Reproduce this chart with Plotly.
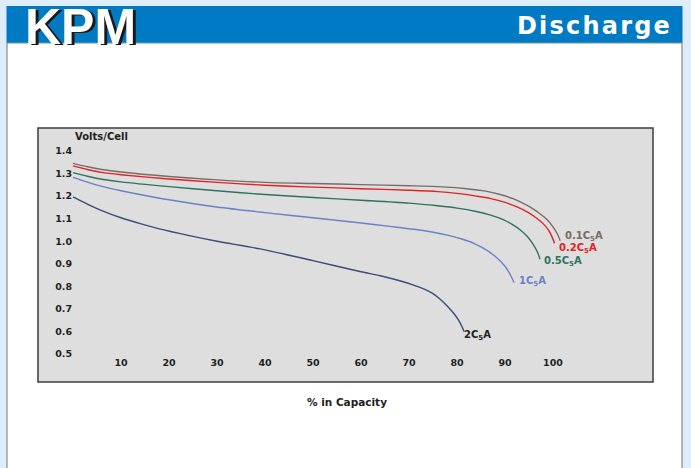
import plotly.graph_objects as go

W, H = 691, 468

# ---- data ----
x_01 = [0, 3, 6, 10, 20, 30, 40, 50, 60, 70, 77, 82, 86, 89, 91.5, 93.5, 95.5, 97.3, 98.8, 100, 100.9, 101.5]
v_01 = [1.345, 1.330, 1.318, 1.307, 1.287, 1.272, 1.261, 1.256, 1.251, 1.246, 1.241, 1.233, 1.222, 1.207, 1.190, 1.171, 1.148, 1.122, 1.095, 1.064, 1.033, 1.002]

x_02 = [0, 3, 6, 10, 20, 30, 40, 50, 60, 70, 76, 80, 84, 87, 90, 92.5, 94.8, 96.6, 98, 99.2, 99.9, 100.3]
v_02 = [1.334, 1.318, 1.305, 1.295, 1.276, 1.261, 1.248, 1.240, 1.233, 1.226, 1.220, 1.212, 1.200, 1.189, 1.172, 1.152, 1.128, 1.102, 1.077, 1.045, 1.015, 0.991]

x_05 = [0, 3, 6, 10, 20, 30, 40, 50, 60, 70, 76, 80, 84, 87, 89.5, 91.5, 93.2, 94.7, 95.9, 96.8, 97.3]
v_05 = [1.304, 1.288, 1.275, 1.263, 1.242, 1.224, 1.207, 1.194, 1.182, 1.169, 1.157, 1.147, 1.132, 1.116, 1.097, 1.075, 1.050, 1.020, 0.985, 0.950, 0.920]

x_1 = [0, 3, 6, 10, 15, 20, 30, 40, 50, 60, 66, 71, 75, 78, 81, 83.5, 86, 88, 90, 91, 91.9]
v_1 = [1.283, 1.262, 1.243, 1.224, 1.203, 1.184, 1.152, 1.127, 1.104, 1.081, 1.066, 1.053, 1.040, 1.027, 1.010, 0.991, 0.963, 0.932, 0.889, 0.856, 0.816]

x_2 = [0, 3, 6, 10, 14, 18, 24, 30, 39, 50, 60, 64, 67.5, 70.5, 73.3, 75, 76.5, 78, 79.6, 80.6, 81.5]
v_2 = [1.197, 1.165, 1.136, 1.104, 1.078, 1.055, 1.026, 1.000, 0.966, 0.914, 0.865, 0.847, 0.828, 0.809, 0.787, 0.768, 0.743, 0.712, 0.673, 0.640, 0.599]

series_names = ["0.1C<sub>5</sub>A", "0.2C<sub>5</sub>A", "0.5C<sub>5</sub>A", "1C<sub>5</sub>A", "2C<sub>5</sub>A"]
series_x = [x_01, x_02, x_05, x_1, x_2]
series_v = [v_01, v_02, v_05, v_1, v_2]
line_colors = ["#7b6b67", "#e32222", "#2f7262", "#6a82c6", "#3c4a7c"]
label_colors = ["#7b6b67", "#e32222", "#2f7262", "#6a82c6", "#222222"]
label_pos = [(102.0, 1.022), (100.8, 0.969), (97.7, 0.912), (92.6, 0.821), (81.0, 0.580)]

x_ticks = [10, 20, 30, 40, 50, 60, 70, 80, 90, 100]
y_ticks = [0.5, 0.6, 0.7, 0.8, 0.9, 1.0, 1.1, 1.2, 1.3, 1.4]

# ---- geometry helpers (pixels -> paper) ----
def px(x):
    return x / W

def py(y):
    return 1 - y / H

box_l, box_r, box_t, box_b = 38, 653, 128, 382
x0_px, x_scale = 73.0, 4.8         # px of 0 %, px per %
y14_px, y_scale = 151.0, 225.6     # px of 1.4 V, px per volt

xmin = -(x0_px - box_l) / x_scale
xmax = xmin + (box_r - box_l) / x_scale
ymax = 1.4 + (y14_px - box_t) / y_scale
ymin = ymax - (box_b - box_t) / y_scale

fig = go.Figure()
for name, xs, vs, c in zip(series_names, series_x, series_v, line_colors):
    fig.add_trace(go.Scatter(x=xs, y=vs, mode="lines", name=name,
                             line=dict(color=c, width=1.4, shape="spline", smoothing=0.8),
                             hoverinfo="skip", showlegend=False))

tick_font = dict(family="DejaVu Sans", size=9.5, color="#1e1e1e", weight="bold")

for name, (lx, ly), c in zip(series_names, label_pos, label_colors):
    fig.add_annotation(x=lx, y=ly, xref="x", yref="y", text=name, showarrow=False,
                       xanchor="left", yanchor="middle",
                       font=dict(family="DejaVu Sans", size=10, color=c, weight="bold"))

shapes = [
    # white panel
    dict(type="rect", xref="paper", yref="paper", x0=px(7), x1=px(682), y0=-0.02, y1=py(43),
         fillcolor="white", line=dict(color="#8a8a8a", width=1.2), layer="below"),
    # blue header
    dict(type="rect", xref="paper", yref="paper", x0=px(6.5), x1=px(682.5), y0=py(42.7), y1=py(6),
         fillcolor="#007bc3", line=dict(width=0), layer="below"),
    # gray chart box
    dict(type="rect", xref="paper", yref="paper", x0=px(box_l), x1=px(box_r), y0=py(box_b), y1=py(box_t),
         fillcolor="#dedede", line=dict(color="#3c3c3c", width=1.5), layer="below"),
]

annotations_extra = [
    # KPM logo shadow + text
    dict(x=px(26), y=py(27.5), text="<b>KPM</b>", showarrow=False, xanchor="left", yanchor="middle",
         font=dict(family="Liberation Sans", size=50, color="#1a1a1a")),
    dict(x=px(22.5), y=py(26.5), text="<b>KPM</b>", showarrow=False, xanchor="left", yanchor="middle",
         font=dict(family="Liberation Sans", size=50, color="white")),
    dict(x=px(674), y=py(26), text="<b><span style=\"letter-spacing:2.2px\">Discharge</span></b>",
         showarrow=False, xanchor="right", yanchor="middle",
         font=dict(family="DejaVu Sans", size=24, color="white")),
    dict(x=px(73), y=py(136), text="<b>Volts/Cell</b>", showarrow=False, xanchor="left", yanchor="middle",
         font=dict(family="DejaVu Sans", size=10, color="#1e1e1e")),
    dict(x=px(346.5), y=py(401.5), text="<b>% in Capacity</b>", showarrow=False, xanchor="center", yanchor="middle",
         font=dict(family="DejaVu Sans", size=10.5, color="#1e1e1e")),
]
for a in annotations_extra:
    a.update(xref="paper", yref="paper")
    fig.add_annotation(**a)

fig.update_layout(
    width=W, height=H, autosize=False,
    margin=dict(l=0, r=0, t=0, b=0, pad=0),
    paper_bgcolor="#ddedfa",
    plot_bgcolor="rgba(0,0,0,0)",
    shapes=shapes,
    hovermode=False,
    xaxis=dict(domain=[px(box_l), px(box_r)], range=[xmin, xmax], anchor="free", position=py(355),
               tickmode="array", tickvals=x_ticks, ticktext=[str(t) for t in x_ticks],
               showgrid=False, zeroline=False, showline=False, ticks="", tickfont=tick_font,
               fixedrange=True),
    yaxis=dict(domain=[py(box_b), py(box_t)], range=[ymin, ymax], anchor="free", position=px(72),
               tickmode="array", tickvals=y_ticks, ticktext=[f"{t:.1f}" for t in y_ticks],
               showgrid=False, zeroline=False, showline=False, ticks="", tickfont=tick_font,
               fixedrange=True),
)

fig.write_html("out.html",
               config={"displayModeBar": False},
               post_script="document.body.style.margin='0';document.body.style.padding='0';")
